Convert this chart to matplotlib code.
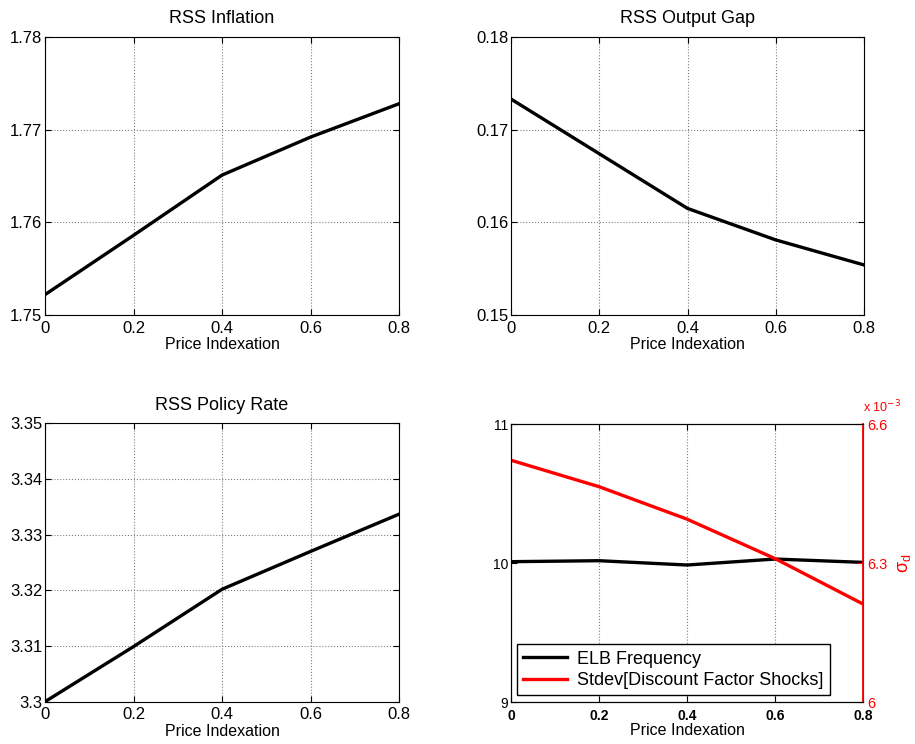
import numpy as np
import matplotlib
matplotlib.use("Agg")
import matplotlib.pyplot as plt
from matplotlib.ticker import FuncFormatter

plt.rcParams['font.family'] = ['Liberation Sans', 'DejaVu Sans']

# data
indexation = [0, 0.2, 0.4, 0.6, 0.8]
inflation = [1.7522, 1.7586, 1.7651, 1.7692, 1.7728]
output_gap = [0.1733, 0.1674, 0.1615, 0.1581, 0.1554]
policy_rate = [3.3000, 3.3099, 3.3202, 3.3270, 3.3337]
elb_freq = [10.011, 10.018, 9.987, 10.030, 10.006]
sigma_d = [0.006522, 0.006465, 0.006395, 0.006310, 0.006212]

x_ticks = [0, 0.2, 0.4, 0.6, 0.8]
x_labels = ['0', '0.2', '0.4', '0.6', '0.8']
lw = 2.4


fig = plt.figure(figsize=(9.15, 7.44), dpi=100)

panels = [
    ([0.0492, 0.5766, 0.387, 0.3737], inflation, 'RSS Inflation', (1.75, 1.78), [1.75, 1.76, 1.77, 1.78]),
    ([0.5585, 0.5766, 0.3858, 0.3737], output_gap, 'RSS Output Gap', (0.15, 0.18), [0.15, 0.16, 0.17, 0.18]),
    ([0.0492, 0.0569, 0.387, 0.374], policy_rate, 'RSS Policy Rate', (3.30, 3.35), [3.30, 3.31, 3.32, 3.33, 3.34, 3.35]),
]

for pos, vals, title, ylim, yt in panels:
    ax = fig.add_axes(pos)
    ax.plot(indexation, vals, color='black', linewidth=lw)
    ax.tick_params(direction='in', top=True, right=True, labelsize=12, length=4, pad=2)
    ax.tick_params(axis='x', pad=4)
    ax.set_xlim(0, 0.8)
    ax.set_xticks(x_ticks)
    ax.set_xticklabels(x_labels)
    ax.set_ylim(*ylim)
    ax.set_yticks(yt)
    ax.yaxis.set_major_formatter(FuncFormatter(lambda v, p: f"{v:g}"))
    ax.grid(True, linestyle=':', color='0.5', linewidth=0.8)
    ax.set_title(title, fontsize=13, pad=10)
    ax.set_xlabel('Price Indexation', fontsize=11.5, labelpad=1)

# bottom right: two y axes
ax1 = fig.add_axes([0.5585, 0.056, 0.3847, 0.374])
l1, = ax1.plot(indexation, elb_freq, color='black', linewidth=lw, label='ELB Frequency')
ax1.set_xlim(0, 0.8)
ax1.set_xticks(x_ticks)
ax1.set_xticklabels(x_labels)
ax1.set_ylim(9, 11)
ax1.set_yticks([9, 10, 11])
ax1.tick_params(direction='in', top=True, length=4, pad=2)
ax1.tick_params(axis='x', labelsize=10, pad=5)
ax1.tick_params(axis='y', labelsize=10)
for lab in ax1.get_xticklabels():
    lab.set_fontweight('bold')
ax1.xaxis.grid(True, linestyle=':', color='0.5', linewidth=0.8)
ax1.set_xlabel('Price Indexation', fontsize=11.5, labelpad=0)

ax2 = ax1.twinx()
l2, = ax2.plot(indexation, sigma_d, color='red', linewidth=lw, label='Stdev[Discount Factor Shocks]')
ax2.set_ylim(0.006, 0.0066)
ax2.set_yticks([0.006, 0.0063, 0.0066])
ax2.yaxis.set_major_formatter(FuncFormatter(lambda v, p: f"{v * 1e3:g}"))
ax2.tick_params(direction='in', colors='red', labelsize=10.5, length=4, pad=3)
ax2.spines['right'].set_color('red')
ax2.spines['right'].set_linewidth(1.3)
ax2.set_ylabel(r'$\mathregular{\sigma_d}$', color='red', fontsize=13, labelpad=6)
ax2.text(1.0, 1.03, r'x 10$^{-3}$', transform=ax2.transAxes, color='red',
         fontsize=9, ha='left', va='bottom')
leg = ax2.legend([l1, l2], [l1.get_label(), l2.get_label()], loc='lower left',
                 fontsize=13, fancybox=False, edgecolor='black', framealpha=1,
                 handlelength=2.4, handletextpad=0.6, borderpad=0.35, labelspacing=0.25,
                 borderaxespad=0, bbox_to_anchor=(0.017, 0.025))
leg.get_frame().set_linewidth(1.0)

fig.savefig('out.png', dpi=100)
